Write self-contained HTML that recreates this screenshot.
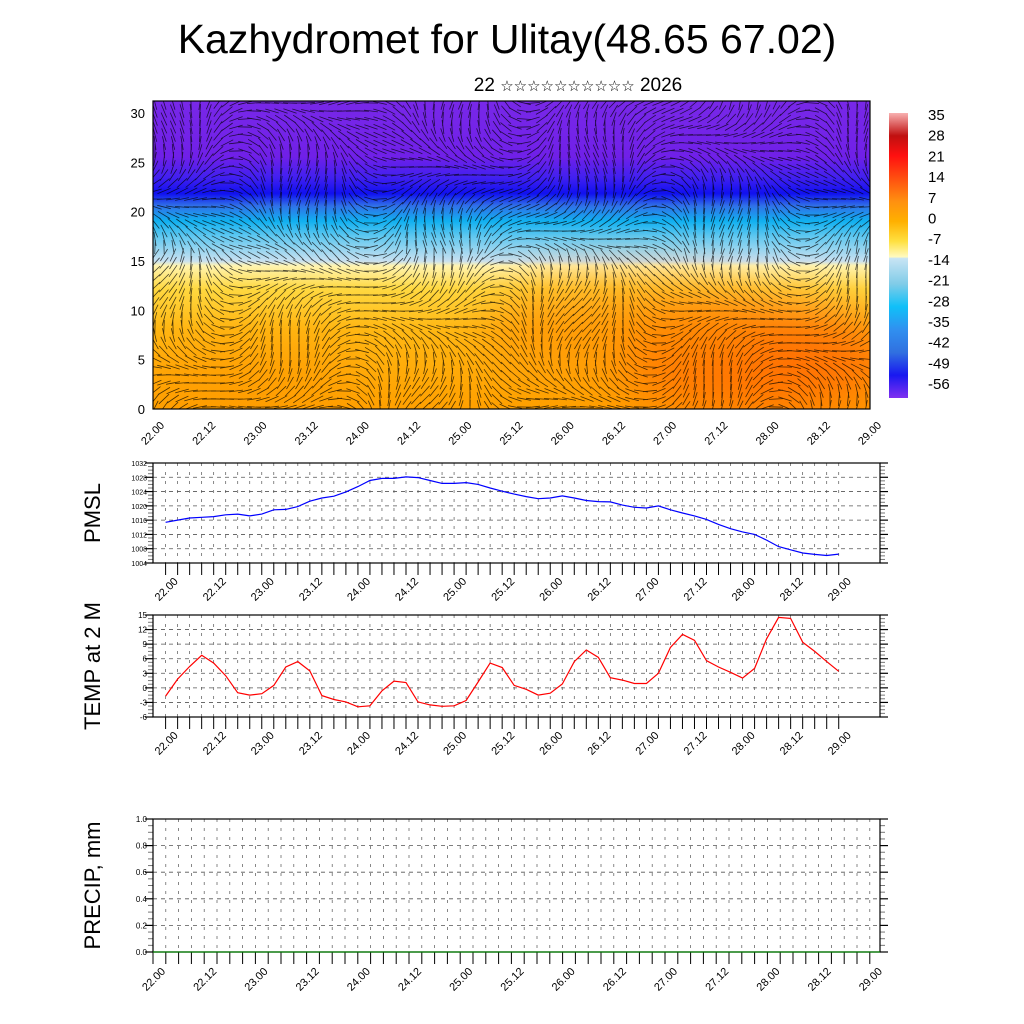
<!DOCTYPE html>
<html><head><meta charset="utf-8"><style>
html,body{margin:0;padding:0;background:#fff;}
svg{display:block;font-family:"Liberation Sans","DejaVu Sans",sans-serif;}
</style></head><body>
<svg id="root" width="1024" height="1024" viewBox="0 0 1024 1024" xmlns="http://www.w3.org/2000/svg">
<defs>
<linearGradient id="tg" gradientUnits="userSpaceOnUse" x1="0" y1="409" x2="0" y2="101">
<stop offset="0" stop-color="#ffa000"/>
<stop offset="0.26" stop-color="#ffb814"/>
<stop offset="0.39" stop-color="#ffd840"/>
<stop offset="0.465" stop-color="#fff4b0"/>
<stop offset="0.48" stop-color="#c8e0f0"/>
<stop offset="0.56" stop-color="#60c8f0"/>
<stop offset="0.61" stop-color="#10b0f0"/>
<stop offset="0.66" stop-color="#3070e8"/>
<stop offset="0.70" stop-color="#1010f0"/>
<stop offset="0.75" stop-color="#4020f0"/>
<stop offset="0.82" stop-color="#7020e8"/>
<stop offset="1" stop-color="#7828e8"/>
</linearGradient>
<linearGradient id="cb" x1="0" y1="0" x2="0" y2="1">
<stop offset="0" stop-color="#f8b0b0"/>
<stop offset="0.08" stop-color="#c01010"/>
<stop offset="0.15" stop-color="#ff1010"/>
<stop offset="0.23" stop-color="#ff5010"/>
<stop offset="0.31" stop-color="#ff9010"/>
<stop offset="0.38" stop-color="#ffb000"/>
<stop offset="0.45" stop-color="#ffe040"/>
<stop offset="0.505" stop-color="#fffac0"/>
<stop offset="0.51" stop-color="#c8e4f4"/>
<stop offset="0.6" stop-color="#80cce8"/>
<stop offset="0.68" stop-color="#10c0f8"/>
<stop offset="0.76" stop-color="#3090f0"/>
<stop offset="0.84" stop-color="#3070e0"/>
<stop offset="0.92" stop-color="#1818f0"/>
<stop offset="1" stop-color="#8030f0"/>
</linearGradient>
<filter id="bl" x="-50%" y="-50%" width="200%" height="200%"><feGaussianBlur stdDeviation="25"/></filter>
<clipPath id="tc"><rect x="153" y="101" width="717" height="308"/></clipPath>
</defs>

<text x="507" y="53" font-size="41" text-anchor="middle">Kazhydromet for Ulitay(48.65 67.02)</text>
<text x="578" y="91" font-size="19" text-anchor="middle">22 <tspan font-size="15">☆☆☆☆☆☆☆☆☆☆</tspan> 2026</text>

<g id="top">
<g clip-path="url(#tc)">
<rect x="153" y="101" width="717" height="308" fill="url(#tg)"/>
<ellipse cx="760" cy="360" rx="140" ry="55" fill="#ff5a00" opacity="0.7" filter="url(#bl)"/>
<ellipse cx="620" cy="330" rx="140" ry="50" fill="#ff8a00" opacity="0.6" filter="url(#bl)"/>
<ellipse cx="250" cy="380" rx="110" ry="35" fill="#ff9800" opacity="0.6" filter="url(#bl)"/>
<g id="wind" stroke="#000" stroke-width="0.8" opacity="0.7"></g>
</g>
<rect x="153" y="101" width="717" height="308" fill="none" stroke="#000" stroke-width="1.2"/>
<g id="topAxes"></g>
</g>

<g>
<rect x="889" y="113" width="19" height="285" fill="url(#cb)"/>
<g id="cbl" font-size="15"></g>
</g>

<g id="pmsl"></g>
<g id="temp"></g>
<g id="precip"></g>
</svg>
<script>
const NS="http://www.w3.org/2000/svg";
const xLabels=["22.00","22.12","23.00","23.12","24.00","24.12","25.00","25.12","26.00","26.12","27.00","27.12","28.00","28.12","29.00"];
const topYTicks=[0,5,10,15,20,25,30];
const cbLabels=["35","28","21","14","7","0","-7","-14","-21","-28","-35","-42","-49","-56"];
const pmslValues=[1015.4,1016,1016.6,1016.8,1017,1017.5,1017.7,1017.2,1017.7,1018.9,1019,1019.8,1021.3,1022.2,1022.7,1023.9,1025.4,1027.1,1027.7,1027.7,1028.1,1027.9,1027.1,1026.3,1026.3,1026.5,1026,1025,1024.1,1023.3,1022.6,1022,1022.2,1022.8,1022.2,1021.5,1021.2,1021.1,1020.2,1019.6,1019.4,1020,1018.9,1018,1017.2,1016.2,1014.8,1013.6,1012.7,1012,1010.4,1008.6,1007.7,1006.8,1006.4,1006.1,1006.5];
const pmslTicks=[1004,1008,1012,1016,1020,1024,1028,1032];
const tempValues=[-1.7,1.8,4.4,6.7,5.1,2.5,-1,-1.5,-1.2,0.5,4.3,5.4,3.5,-1.6,-2.4,-2.9,-3.9,-3.7,-0.6,1.4,1.1,-2.9,-3.5,-3.8,-3.7,-2.6,1.2,5.1,4.2,0.5,-0.3,-1.5,-1.1,0.8,5.4,7.8,6.3,2.1,1.6,0.9,0.9,3,8.3,11,9.8,5.6,4.3,3.2,2,4,10.1,14.5,14.3,9.4,7.5,5.4,3.4];
const tempTicks=[-6,-3,0,3,6,9,12,15];
const precipValues=new Array(56).fill(0);
const precipTicks=[0,0.2,0.4,0.6,0.8,1.0];

function el(tag,attrs,parent,txt){const e=document.createElementNS(NS,tag);for(const k in attrs)e.setAttribute(k,attrs[k]);if(txt!==undefined)e.textContent=txt;parent.appendChild(e);return e;}

const topG=document.getElementById('topAxes');
const tyS=v=>409-v*9.87;
topYTicks.forEach(v=>{
  const t=el('text',{x:145,y:tyS(v)+5,'font-size':13,'text-anchor':'end'},topG,String(v));
  
  
});
const txS=i=>153+i*(717/14);
xLabels.forEach((l,i)=>{
  const x=txS(i)+12,y=426;
  const t=el('text',{x:x,y:y,'font-size':11,'text-anchor':'end',transform:`rotate(-45 ${x} ${y})`},topG,l);
  
  
});
const wind=document.getElementById('wind');
for(let x=155;x<872;x+=9){for(let y=103;y<411;y+=8){
  const a=Math.sin(x*0.013+y*0.021)*1.2+Math.cos(x*0.031-y*0.017)*0.8+(y>250?0.4:0);
  const L=14,dx=Math.cos(a)*L/2,dy=Math.sin(a)*L/2;
  el('line',{x1:(x-dx).toFixed(1),y1:(y-dy).toFixed(1),x2:(x+dx).toFixed(1),y2:(y+dy).toFixed(1)},wind);
}}
const cbl=document.getElementById('cbl');
cbLabels.forEach((l,i)=>{
  const t=el('text',{x:928,y:120+i*20.7},cbl,l);
  
  
});

function panel(gid,opt){
  const g=document.getElementById(gid);
  const {top,bot,left,right,ymin,ymax,ticks,x0,dx,nTicks,title,fmt,values,color,tsize,lx,ly}=opt;
  const yS=v=>bot-(v-ymin)/(ymax-ymin)*(bot-top);
  const xS=i=>x0+i*dx;
  for(let i=0;i<nTicks;i++){const x=xS(i);
    const gl=el('line',{x1:x,y1:top,x2:x,y2:bot,stroke:'#555','stroke-width':0.7,'stroke-dasharray':'3,6'},g);
    
    
    el('line',{x1:x,y1:bot,x2:x,y2:bot+12,stroke:'#000','stroke-width':1},g);
  }
  ticks.forEach((v,k)=>{const y=yS(v);
    if(k>0&&k<ticks.length-1){
      const hl=el('line',{x1:left,y1:y,x2:right,y2:y,stroke:'#555','stroke-width':0.8,'stroke-dasharray':'4,4'},g);
      
      
    }
    el('line',{x1:left-8,y1:y,x2:left,y2:y,stroke:'#000','stroke-width':1.2},g);
    el('line',{x1:right,y1:y,x2:right+8,y2:y,stroke:'#000','stroke-width':1.2},g);
    const t=el('text',{x:left-6,y:y+3,'font-size':tsize,'text-anchor':'end'},g,fmt(v));
    
    
    if(k<ticks.length-1){for(let m=1;m<4;m++){const ym=y-(m/4)*(yS(ticks[0])-yS(ticks[1]));
      el('line',{x1:left-5,y1:ym,x2:left,y2:ym,stroke:'#777','stroke-width':1},g);
      el('line',{x1:right,y1:ym,x2:right+5,y2:ym,stroke:'#777','stroke-width':1},g);}}
  });
  if(values){
    const pts=values.map((v,i)=>xS(i).toFixed(1)+','+yS(v).toFixed(1)).join(' ');
    const pl=el('polyline',{points:pts,fill:'none',stroke:color,'stroke-width':1.2},g);
    
    
  }
  const fr=el('rect',{x:left,y:top,width:right-left,height:bot-top,fill:'none',stroke:'#000','stroke-width':1.2},g);
  
  
  xLabels.forEach((l,i)=>{const x=xS(i*4)+lx,y=bot+ly;
    const t=el('text',{x:x,y:y,'font-size':11,'text-anchor':'end',transform:`rotate(-45 ${x} ${y})`},g,l);
    
    
  });
  const cy=(top+bot)/2;
  const tt=el('text',{x:100,y:cy,'font-size':22,'text-anchor':'middle',transform:`rotate(-90 100 ${cy})`},g,title);
  
  
}
panel('pmsl',{top:463,bot:563,left:153,right:880,ymin:1004,ymax:1032,ticks:pmslTicks,x0:165.6,dx:12.02,nTicks:57,title:'PMSL',fmt:v=>String(v),values:pmslValues,color:'#0000ff',tsize:7,lx:13,ly:19});
panel('temp',{top:615,bot:717,left:153,right:880,ymin:-6,ymax:15,ticks:tempTicks,x0:165.6,dx:12.02,nTicks:57,title:'TEMP at 2 M',fmt:v=>String(v),values:tempValues,color:'#ff0000',tsize:8,lx:13,ly:19});
panel('precip',{top:819,bot:952,left:153,right:880,ymin:0,ymax:1,ticks:precipTicks,x0:153,dx:12.8,nTicks:57,title:'PRECIP, mm',fmt:v=>v.toFixed(1),values:null,color:'#008000',tsize:8,lx:13,ly:20});
const pz=el('line',{x1:153,y1:952,x2:880,y2:952,stroke:'#008000','stroke-width':1.2},document.getElementById('precip'));


</script>
</body></html>
